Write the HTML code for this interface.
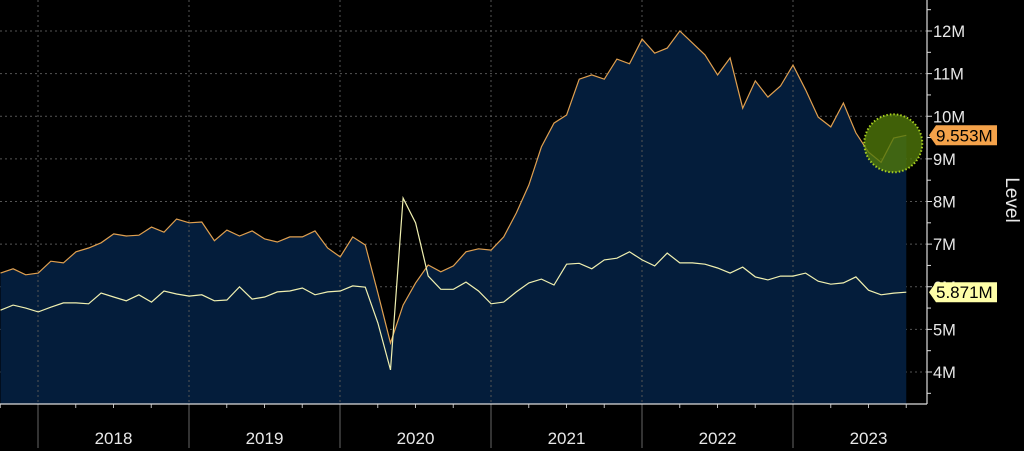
<!DOCTYPE html>
<html><head><meta charset="utf-8"><style>
html,body{margin:0;padding:0;background:#000;}
svg{display:block;font-family:"Liberation Sans",sans-serif;}
</style></head><body>
<svg id="chart" width="1024" height="451" viewBox="0 0 1024 451">
<g id="grid"></g>
<path id="area" fill="#041d3b"/>
<g id="vgrid"></g>
<path id="lineA" fill="none" stroke="#e0a050" stroke-width="1.2"/>
<path id="lineB" fill="none" stroke="#f0f0b0" stroke-width="1.2"/>
<g id="axes"></g>
<circle id="hl" r="29" fill="rgba(80,120,10,0.8)" stroke="#a8d020" stroke-width="2" stroke-dasharray="1.5 2"/>
<text x="1006" y="200" fill="#e8e8e8" font-size="19" transform="rotate(90 1006 200)" text-anchor="middle">Level</text>
<g id="tags"></g>
</svg>
<script>
const years = ["2018","2019","2020","2021","2022","2023"];
const yTicks = [4,5,6,7,8,9,10,11,12];
const yTickLabels = ["4M","5M","6M","7M","8M","9M","10M","11M","12M"];
// monthly, starting Sep 2017
const openings = [6.32,6.42,6.28,6.32,6.60,6.56,6.82,6.91,7.03,7.24,7.19,7.21,7.40,7.28,7.59,7.50,7.52,7.08,7.33,7.19,7.31,7.12,7.05,7.17,7.17,7.31,6.91,6.70,7.17,6.98,5.85,4.68,5.57,6.09,6.51,6.35,6.49,6.82,6.89,6.86,7.17,7.73,8.39,9.28,9.84,10.03,10.87,10.97,10.87,11.34,11.23,11.81,11.48,11.60,12.0,11.72,11.44,10.97,11.37,10.19,10.83,10.45,10.71,11.2,10.62,9.98,9.75,10.31,9.61,9.16,8.92,9.49,9.553];
const hires = [5.45,5.57,5.50,5.41,5.52,5.62,5.62,5.60,5.85,5.76,5.67,5.81,5.64,5.90,5.83,5.78,5.81,5.67,5.69,6.0,5.71,5.76,5.88,5.90,5.97,5.81,5.88,5.90,6.02,5.99,5.15,4.05,8.08,7.50,6.25,5.94,5.94,6.11,5.90,5.60,5.64,5.88,6.09,6.18,6.04,6.53,6.55,6.42,6.63,6.67,6.82,6.63,6.49,6.79,6.56,6.56,6.53,6.44,6.32,6.46,6.23,6.16,6.25,6.25,6.32,6.13,6.06,6.09,6.23,5.92,5.81,5.85,5.871];
const labels = ["9.553M","5.871M"];

const NS="http://www.w3.org/2000/svg";
const X0=0.5, DX=12.58, AXX=927, BOT=404;
const x = i => X0 + i*DX;
const y = v => 31 + (12 - v)*42.625;
const yearX = k => 38 + k*151;
function el(tag, attrs, parent){const e=document.createElementNS(NS,tag);for(const k in attrs)e.setAttribute(k,attrs[k]);parent.appendChild(e);return e;}

const grid=document.getElementById('grid'), vgrid=document.getElementById('vgrid'), axes=document.getElementById('axes');
yTicks.forEach((v,i)=>{
  const g=el('line',{x1:0,x2:AXX,y1:y(v),y2:y(v),stroke:'#555',"stroke-width":1,"stroke-dasharray":"2 3"},grid);
  
  
  const t=el('line',{x1:AXX,x2:AXX+5,y1:y(v),y2:y(v),stroke:'#ddd'},axes);
  
  
  const m=el('line',{x1:AXX,x2:AXX+4,y1:y(v+0.5),y2:y(v+0.5),stroke:'#ddd'},axes);
  
  
  const lb=el('text',{x:AXX+6,y:y(v)+6,fill:'#e8e8e8',"font-size":16.5},axes);
  lb.textContent=yTickLabels[i];
  
  
});
{const m=el('line',{x1:AXX,x2:AXX+4,y1:y(3.5),y2:y(3.5),stroke:'#ddd'},axes);

}
for(let k=0;k<years.length;k++){
  const xx=yearX(k);
  const g=el('line',{x1:xx,x2:xx,y1:0,y2:BOT,stroke:'#555',"stroke-dasharray":"2 3"},vgrid);
  
  
  const s=el('line',{x1:xx,x2:xx,y1:BOT,y2:448,stroke:'#666'},axes);
  
  
  for(let q=1;q<4;q++){
    const qt=el('line',{x1:xx+q*37.75,x2:xx+q*37.75,y1:BOT,y2:BOT+4,stroke:'#bbb'},axes);
    
    
  }
  const lb=el('text',{x:xx+75.5,y:444,fill:'#e8e8e8',"font-size":17,"text-anchor":"middle"},axes);
  lb.textContent=years[k];
  
  
}
{const qt=el('line',{x1:yearX(0)-37.75,x2:yearX(0)-37.75,y1:BOT,y2:BOT+4,stroke:'#bbb'},axes);

}
const al=el('line',{x1:0,x2:AXX,y1:BOT,y2:BOT,stroke:'#ddd',"stroke-width":1.2},axes);


const ayl=el('line',{x1:AXX,x2:AXX,y1:0,y2:BOT,stroke:'#ddd',"stroke-width":1.2},axes);



const pts=a=>a.map((v,i)=>(i?'L':'M')+x(i).toFixed(1)+','+y(v).toFixed(1)).join('');
document.getElementById('lineA').setAttribute('d',pts(openings));
document.getElementById('lineB').setAttribute('d',pts(hires));
const n=openings.length-1;
document.getElementById('area').setAttribute('d',pts(openings)+'L'+x(n)+','+BOT+'L'+x(0)+','+BOT+'Z');
const hl=document.getElementById('hl');
hl.setAttribute('cx',x(n)-13);hl.setAttribute('cy',y(openings[n])+8);

const tags=document.getElementById('tags');
[[openings[n],'#f4a24a',labels[0]],[hires[n],'#ffffa8',labels[1]]].forEach(([v,c,t])=>{
  const yy=y(v);
  const p=el('path',{d:`M929,${yy}L936,${yy-10}L997,${yy-10}L997,${yy+10}L936,${yy+10}Z`,fill:c},tags);
  
  
  const tx=el('text',{x:936,y:yy+6,fill:'#000',"font-size":17},tags);
  tx.textContent=t;
  
  
});
</script>
</body></html>
